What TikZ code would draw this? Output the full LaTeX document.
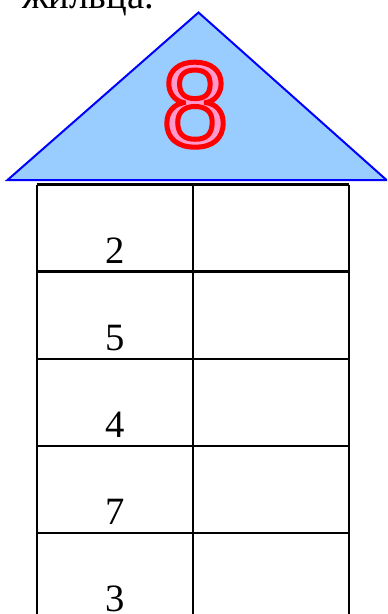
\documentclass[tikz,border=0pt]{standalone}
\usepackage{fontspec}
\setmainfont{Liberation Serif}
\newfontfamily\eightfont{Liberation Sans}
\definecolor{roofblue}{HTML}{99CCFF}
\definecolor{roofline}{HTML}{0000FF}
\definecolor{eightpink}{HTML}{FF99CC}
\begin{document}
\begin{tikzpicture}[x=0.75pt,y=-0.75pt,
  cellnum/.style={font=\fontsize{29}{34}\selectfont, anchor=base, inner sep=0pt},
  gridline/.style={line width=1.6pt, black}]
\useasboundingbox (0,0) rectangle (387,614);
\begin{scope}
\clip (0,0) rectangle (387,614);
\node[font=\fontsize{29}{34}\selectfont, anchor=base west, inner sep=0pt] (caption) at (22,8) {жильца.};
% roof
\coordinate (apex) at (198.5,12.5);
\coordinate (bl) at (7.5,180);
\coordinate (br) at (386.5,180);
\draw[fill=roofblue, draw=roofline, line width=1.5pt, line join=miter] (apex) -- (br) -- (bl) -- cycle;
\node[anchor=base, inner sep=0pt, font=\eightfont\fontsize{90}{92}\selectfont, text=eightpink] (eight) at (195,146)
  {\special{pdf:literal direct 1 0 0 RG 3.75 w 2 Tr}8\special{pdf:literal direct 0 Tr}};
% table
\foreach \i/\y in {0/184.5,1/271.5,2/358.7,3/446,4/533,5/620}{
  \coordinate (L\i) at (37,\y);
  \coordinate (M\i) at (193,\y);
  \coordinate (R\i) at (349,\y);
}
\foreach \i in {0,...,5}{ \draw[gridline] (L\i) -- (R\i); }
\draw[gridline] (L0) -- (L5);
\draw[gridline] (M0) -- (M5);
\draw[gridline] (R0) -- (R5);
\node[cellnum] (n1) at (115,263) {2};
\node[cellnum] (n2) at (115,350) {5};
\node[cellnum] (n3) at (115,437) {4};
\node[cellnum] (n4) at (115,524) {7};
\node[cellnum] (n5) at (115,611) {3};
\end{scope}
\end{tikzpicture}
\end{document}
